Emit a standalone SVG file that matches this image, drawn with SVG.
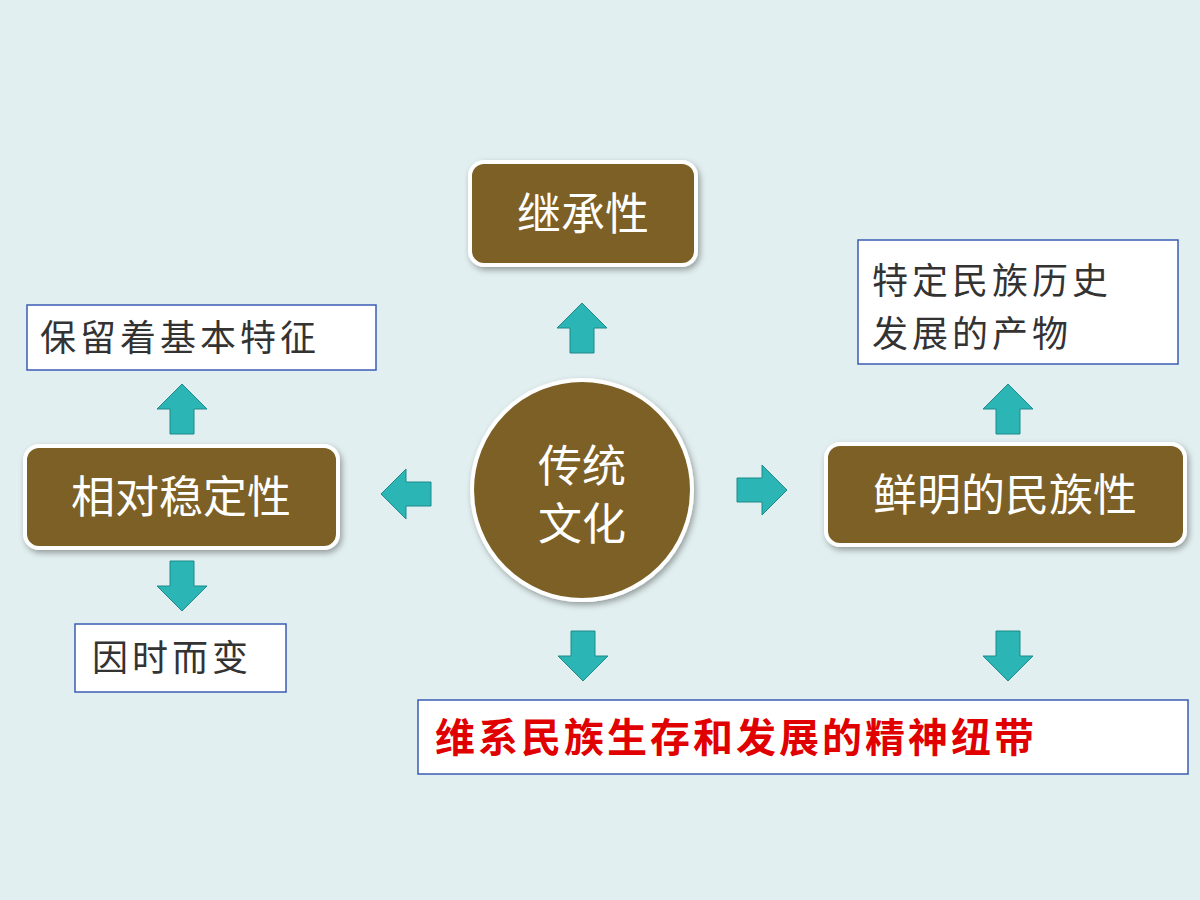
<svg xmlns="http://www.w3.org/2000/svg" width="1200" height="900" viewBox="0 0 1200 900">
<style>
.b{fill:#7b6126;stroke:#fff;stroke-width:4}
.w{fill:#fff;stroke:#3b5cb3;stroke-width:1.5}
.t{fill:#fff;font-family:"Noto Sans CJK SC",sans-serif;font-size:44px;text-anchor:middle}
.k{fill:#333;font-family:"Noto Sans CJK SC",sans-serif;font-size:36px;letter-spacing:4px}
.a{fill:#2bb5b5;stroke:#1e8a8a;stroke-width:1}
</style>
<defs><filter id="s" x="-10%" y="-10%" width="130%" height="130%"><feDropShadow dx="2" dy="3" stdDeviation="3" flood-opacity="0.35"/></filter>
<path id="up" d="M0,-25 L25,0 L12,0 L12,25 L-12,25 L-12,0 L-25,0 Z"/></defs>
<rect width="1200" height="900" fill="#e2eff0"/>
<g id="connectors">
<use href="#up" class="a" transform="translate(582,328)"/>
<use href="#up" class="a" transform="translate(182,409)"/>
<use href="#up" class="a" transform="translate(182,586) rotate(180)"/>
<use href="#up" class="a" transform="translate(406,494) rotate(-90)"/>
<use href="#up" class="a" transform="translate(762,490) rotate(90)"/>
<use href="#up" class="a" transform="translate(1008,409)"/>
<use href="#up" class="a" transform="translate(583,656) rotate(180)"/>
<use href="#up" class="a" transform="translate(1008,656) rotate(180)"/>
</g>
<g id="n1"><rect class="b" filter="url(#s)" x="470" y="162" width="226" height="103" rx="14"/><text class="t" x="583" y="230">继承性</text></g>
<g id="n2"><circle class="b" filter="url(#s)" cx="582" cy="490" r="110"/><text class="t" x="582" y="482">传统</text><text class="t" x="582" y="540">文化</text></g>
<g id="n3"><rect class="b" filter="url(#s)" x="25" y="446" width="313" height="102" rx="14"/><text class="t" x="181" y="513">相对稳定性</text></g>
<g id="n4"><rect class="b" filter="url(#s)" x="826" y="444" width="359" height="101" rx="14"/><text class="t" x="1005" y="511">鲜明的民族性</text></g>
<g id="n5"><rect class="w" x="27" y="305" width="349" height="65"/><text class="k" x="40" y="351">保留着基本特征</text></g>
<g id="n6"><rect class="w" x="858" y="240" width="320" height="124"/><text class="k" x="872" y="294">特定民族历史</text><text class="k" x="872" y="347">发展的产物</text></g>
<g id="n7"><rect class="w" x="75" y="624" width="211" height="68"/><text class="k" x="92" y="671">因时而变</text></g>
<g id="n8"><rect class="w" x="418" y="700" width="770" height="74"/><text x="435" y="752" fill="#e00000" font-family="Noto Sans CJK SC,sans-serif" font-size="40" font-weight="bold" letter-spacing="3">维系民族生存和发展的精神纽带</text></g>
</svg>
